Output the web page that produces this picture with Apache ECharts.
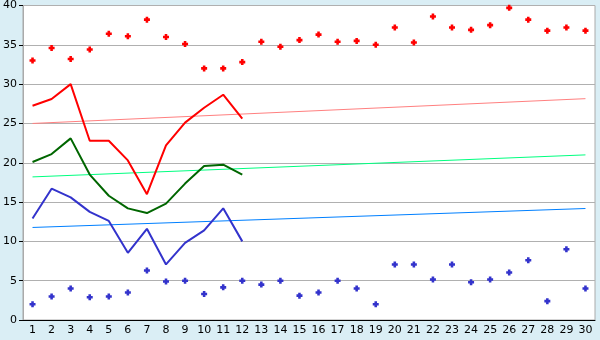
<!DOCTYPE html>
<html><head><meta charset="utf-8">
<script src="https://cdn.jsdelivr.net/npm/echarts@6/dist/echarts.min.js"></script>
<style>html,body{margin:0;padding:0;background:#daeef5;}#c{width:600px;height:340px;}</style>
</head><body><div id="c"></div>
<script>
const categories = ['1','2','3','4','5','6','7','8','9','10','11','12','13','14','15','16','17','18','19','20','21','22','23','24','25','26','27','28','29','30'];
const redPoints = [33.0,34.6,33.2,34.4,36.4,36.1,38.2,36.0,35.1,32.0,32.0,32.8,35.4,34.75,35.6,36.3,35.4,35.5,35.0,37.2,35.3,38.6,37.2,36.9,37.5,39.7,38.2,36.8,37.2,36.8];
const bluePoints = [2.0,3.0,4.0,2.9,3.0,3.5,6.3,4.9,5.0,3.3,4.15,5.0,4.5,5.0,3.1,3.5,5.0,4.0,2.0,7.07,7.07,5.15,7.07,4.8,5.15,6.05,7.6,2.4,9.0,4.0];
const redLine = [27.25,28.1,30.0,22.8,22.8,20.3,16.0,22.2,25.1,27.0,28.65,25.6];
const greenLine = [20.1,21.1,23.1,18.5,15.8,14.2,13.6,14.8,17.35,19.6,19.75,18.5];
const blueLine = [12.9,16.7,15.6,13.75,12.6,8.55,11.6,7.07,9.8,11.4,14.2,10.0];
const redTrend = [25.0, 28.15];
const greenTrend = [18.2, 21.0];
const blueTrend = [11.77, 14.18];
const yTicks = [0,5,10,15,20,25,30,35,40];

const marker = 'path://M2,0H5V2H7V5H5V7H2V5H0V2H2Z';
function trend(vals, color){
  return {type:'line', data:[[categories[0], vals[0]],[categories[categories.length-1], vals[1]]], symbol:'none', lineStyle:{color:color,width:1}, z:1, animation:false, silent:true};
}
const chart = echarts.init(document.getElementById('c'));
chart.setOption({
  animation:false,
  backgroundColor:'#daeef5',
  grid:{left:20,right:5,top:5,bottom:20,show:true,backgroundColor:'#ffffff',borderColor:'#aaaaaa',borderWidth:1},
  xAxis:{type:'category',data:categories,boundaryGap:true,
    axisLine:{lineStyle:{color:'#000',width:1}},
    axisTick:{alignWithLabel:true,length:5,lineStyle:{color:'#000'}},
    axisLabel:{color:'#000',fontFamily:'DejaVu Sans',fontSize:11,margin:5,interval:0}},
  yAxis:{type:'value',min:yTicks[0],max:yTicks[yTicks.length-1],interval:5,
    axisLine:{show:true,lineStyle:{color:'#aaaaaa'}},
    axisTick:{show:true,length:4,lineStyle:{color:'#000'}},
    axisLabel:{color:'#000',fontFamily:'DejaVu Sans',fontSize:11,margin:6},
    splitLine:{lineStyle:{color:'#b0b0b0',width:1}}},
  series:[
    trend(redTrend,'#ff8080'),
    trend(greenTrend,'#00ff80'),
    trend(blueTrend,'#0080ff'),
    {type:'line',data:redLine,symbol:'none',lineStyle:{color:'#ff0000',width:2},z:3},
    {type:'line',data:greenLine,symbol:'none',lineStyle:{color:'#006600',width:2},z:3},
    {type:'line',data:blueLine,symbol:'none',lineStyle:{color:'#3333cc',width:2},z:3},
    {type:'scatter',data:redPoints,symbol:marker,symbolSize:6,itemStyle:{color:'#ff0000',opacity:1},z:4},
    {type:'scatter',data:bluePoints,symbol:marker,symbolSize:6,itemStyle:{color:'#3333cc',opacity:1},z:4}
  ]
});
</script></body></html>
